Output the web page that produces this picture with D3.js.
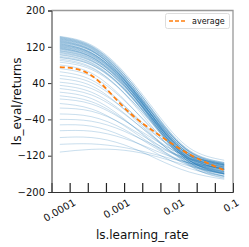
<!DOCTYPE html>
<html><head><meta charset="utf-8">
<script src="https://cdn.jsdelivr.net/npm/d3@7"></script>
<style>body{margin:0;background:#fff}svg{display:block;font-family:"DejaVu Sans",sans-serif}</style>
</head><body><svg id="c" width="249" height="247"></svg>
<script>
// learning-rate sample points (x) for every curve
const learningRates = [6.6e-5, 2.51e-4, 1e-3, 3.98e-3, 1.58e-2, 6.9e-2];
// individual run curves (ls_eval/returns)
const runs = [
  [143,124,64,-26,-103,-130],[141,121,60,-33,-112,-140],[140,120,56,-40,-121,-150],
  [138,119,59,-31,-108,-135],[137,116,51,-47,-130,-160],[135,115,54,-39,-117,-145],
  [134,113,47,-51,-135,-165],[132,113,54,-35,-111,-138],[131,111,48,-46,-126,-155],
  [129,110,49,-43,-120,-148],[128,107,42,-57,-140,-170],[126,107,48,-40,-115,-142],
  [124,104,42,-51,-130,-158],[122,103,43,-47,-123,-150],[120,102,46,-38,-110,-135],
  [118,98,37,-56,-134,-162],[116,98,40,-46,-120,-146],[114,95,36,-53,-129,-156],
  [112,94,39,-44,-115,-140],[110,91,30,-61,-138,-166],[108,90,33,-53,-126,-152],
  [105,88,33,-50,-120,-145],[102,84,26,-60,-134,-160],[99,82,27,-55,-125,-150],
  [96,80,28,-50,-116,-140],[93,75,17,-69,-142,-168],[90,73,19,-62,-131,-155],
  [86,70,18,-59,-125,-148],
  [142,122,60,-32,-110,-138],[139,118,53,-45,-126,-155],[136,117,55,-36,-113,-140],
  [133,112,48,-48,-128,-158],[130,111,51,-40,-116,-143],[127,106,44,-52,-130,-160],
  [125,106,46,-45,-122,-150],[123,105,48,-38,-111,-137],[121,101,40,-53,-131,-160],
  [119,100,43,-45,-120,-147],[117,97,36,-57,-135,-165],[115,97,41,-43,-116,-142],
  [111,93,36,-50,-124,-150],[107,89,34,-49,-119,-144],[103,85,28,-58,-131,-157],
  [97,80,25,-57,-128,-153],
  [80,62,4,-72,-127,-150],[72,55,2,-68,-119,-140],[65,47,-9,-84,-138,-160],
  [57,41,-10,-76,-125,-145],[50,34,-18,-85,-135,-155],[42,28,-17,-77,-120,-138],
  [35,20,-26,-87,-132,-150],[28,14,-28,-84,-125,-142],[20,6,-39,-99,-142,-160],
  [12,-1,-41,-94,-132,-148],[5,-6,-42,-88,-122,-136],[-5,-17,-54,-102,-137,-152],
  [-15,-22,-52,-95,-128,-145],[-28,-34,-62,-105,-140,-158],[-40,-44,-66,-100,-127,-140],
  [-52,-55,-78,-115,-148,-165],[-65,-66,-82,-110,-136,-150],[-80,-80,-96,-127,-156,-172],
  [-95,-94,-102,-118,-136,-148],[-112,-106,-108,-122,-143,-160]
];
// average curve
const average = [75, 57, -14, -71, -117, -152];
const xTickValues = [1e-4, 2.154e-4, 4.642e-4, 1e-3, 2.154e-3, 4.642e-3, 1e-2, 2.154e-2, 4.642e-2, 1e-1];
const xTickLabels = {"0.0001":1e-4, "0.001":1e-3, "0.01":1e-2, "0.1":1e-1};
const yTickValues = [200, 120, 40, -40, -120, -200];

const L = 51.5, R = 233, T = 10.5, B = 192;
const svg = d3.select("#c");
const x = d3.scaleLog().domain([4.642e-5, 0.1]).range([L, R]);
const y = d3.scaleLinear().domain([-200, 200]).range([B, T]);

const line = d3.line().x((d, i) => x(learningRates[i])).y(d => y(d)).curve(d3.curveNatural);

svg.append("g").selectAll("path").data(runs).join("path")
  .attr("d", line).attr("fill", "none").attr("stroke", "#1f77b4")
  .attr("stroke-opacity", 0.24).attr("stroke-width", 1);

svg.append("path").datum(average).attr("d", line).attr("fill", "none")
  .attr("stroke", "#ff7f0e").attr("stroke-width", 1.8).attr("stroke-dasharray", "5,3");

// frame: top/right light
svg.append("path").attr("d", `M${L},${T}H${R}V${B}`).attr("fill", "none").attr("stroke", "#999").attr("stroke-width", 1.3);

// y axis
const ya = svg.append("g").attr("transform", `translate(${L},0)`)
  .call(d3.axisLeft(y).tickValues(yTickValues).tickSize(3.5).tickPadding(3).tickFormat(d3.format("d")));
ya.select(".domain").attr("stroke", "#333");
ya.selectAll(".tick line").attr("stroke", "#333");
ya.selectAll("text").attr("font-size", 10).attr("fill", "#111").attr("font-family", "DejaVu Sans");

// x axis: inward ticks
const xa = svg.append("g").attr("transform", `translate(0,${B})`)
  .call(d3.axisBottom(x).tickValues(xTickValues).tickSize(-9).tickFormat(() => ""));
xa.select(".domain").attr("stroke", "#333");
xa.selectAll(".tick line").attr("stroke", "#222").attr("stroke-width", 1.2);
xa.selectAll(".tick").filter(d => d >= 0.099).select("line").remove();

svg.append("g").selectAll("text").data(Object.entries(xTickLabels)).join("text")
  .attr("transform", d => `translate(${x(d[1]) + 3},${B + 6}) rotate(-30)`)
  .attr("text-anchor", "end").attr("dy", "0.75em")
  .attr("font-size", 10).attr("fill", "#111").text(d => d[0]);

svg.append("text").attr("x", (L + R) / 2).attr("y", 239).attr("text-anchor", "middle")
  .attr("font-size", 12).attr("fill", "#111").text("ls.learning_rate");
svg.append("text").attr("transform", `translate(21,${(T + B) / 2}) rotate(-90)`)
  .attr("text-anchor", "middle").attr("font-size", 12).attr("fill", "#111").text("ls_eval/returns");

// legend
const lg = svg.append("g");
lg.append("rect").attr("x", 165.5).attr("y", 13.5).attr("width", 64).attr("height", 15).attr("rx", 2)
  .attr("fill", "#fff").attr("fill-opacity", 0.8).attr("stroke", "#ddd");
lg.append("line").attr("x1", 169).attr("x2", 186).attr("y1", 21).attr("y2", 21)
  .attr("stroke", "#ff7f0e").attr("stroke-width", 1.5).attr("stroke-dasharray", "4,2");
lg.append("text").attr("x", 192).attr("y", 24).attr("font-size", 8).attr("fill", "#111").text("average");
</script></body></html>
